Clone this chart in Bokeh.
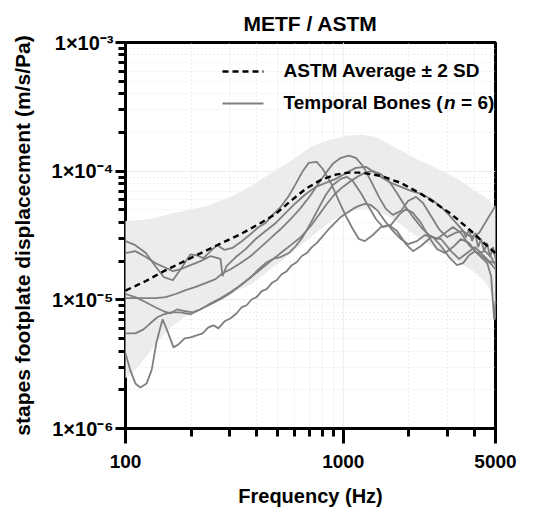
from bokeh.plotting import figure
from bokeh.models import FixedTicker, CustomJSTickFormatter, Label, Arrow, Range1d
from bokeh.embed import file_html
from bokeh.resources import INLINE

FONT = "Liberation Sans"

# ---------------- data (Hz, m/s/Pa) ----------------
x_major_ticks = [100, 1000, 5000]
x_minor_ticks = [200, 300, 400, 500, 600, 700, 800, 900, 2000, 3000, 4000]
y_major_ticks = [1e-6, 1e-5, 1e-4, 1e-3]
y_minor_ticks = [k * 10.0 ** e for e in (-6, -5, -4) for k in range(2, 10)]

# ASTM average and +/- 2 SD band
band_freq = [100, 117, 137, 161, 192, 238, 304, 376, 464, 574, 709, 877, 1027,
             1204, 1412, 1745, 2157, 2666, 3295, 3862, 4527, 4774, 5000]
band_upper = [4.10e-5, 4.17e-5, 4.33e-5, 4.67e-5, 5.00e-5, 5.37e-5, 6.30e-5, 7.68e-5,
              9.6e-5, 1.20e-4, 1.55e-4, 1.76e-4, 1.88e-4, 1.92e-4, 1.84e-4, 1.52e-4,
              1.25e-4, 1.06e-4, 8.85e-5, 7.4e-5, 6.19e-5, 5.76e-5, 5.17e-5]
band_lower = [2.45e-6, 3.14e-6, 4.51e-6, 6.1e-6, 7.6e-6, 9.4e-6, 1.13e-5, 1.31e-5,
              1.73e-5, 2.30e-5, 3.06e-5, 4.10e-5, 4.70e-5, 5.07e-5, 4.99e-5, 4.10e-5,
              3.13e-5, 2.49e-5, 2.00e-5, 1.73e-5, 1.35e-5, 1.13e-5, 6.81e-6]

mean_freq = [100, 124, 150, 199, 259, 338, 418, 490, 574, 673, 788, 924, 1060, 1204,
             1488, 1840, 2274, 2666, 3125, 3862, 4527, 5000]
mean_disp = [1.18e-5, 1.40e-5, 1.67e-5, 2.11e-5, 2.62e-5, 3.24e-5, 3.96e-5, 4.66e-5,
             5.87e-5, 7.3e-5, 8.55e-5, 9.4e-5, 9.75e-5, 9.75e-5, 9.19e-5, 8.1e-5,
             6.66e-5, 5.59e-5, 4.66e-5, 3.43e-5, 2.67e-5, 2.30e-5]

# temporal bones (n = 6)
bone1_freq = [100, 111, 124, 137, 150, 165, 179, 199, 212, 228, 246, 264, 285, 310, 338,
              376, 409, 440, 474, 516, 562, 605, 651, 694, 755, 805, 877, 954, 1027, 1106,
              1179, 1256, 1367, 1488, 1620, 1764, 1940, 2089, 2274, 2528, 2811, 3125,
              3402, 3702, 4030, 4386, 4673, 5000]
bone1_disp = [2.86e-5, 2.66e-5, 2.31e-5, 1.83e-5, 1.50e-5, 1.42e-5, 1.73e-5, 2.26e-5,
              2.22e-5, 2.11e-5, 2.39e-5, 2.66e-5, 2.44e-5, 2.53e-5, 2.81e-5, 3.25e-5,
              3.68e-5, 3.96e-5, 4.57e-5, 5.27e-5, 6.42e-5, 7.96e-5, 1.00e-4, 1.16e-4,
              1.18e-4, 1.04e-4, 8.10e-5, 5.87e-5, 4.49e-5, 3.55e-5, 2.97e-5, 2.86e-5,
              3.19e-5, 3.68e-5, 3.82e-5, 3.43e-5, 2.71e-5, 2.39e-5, 2.62e-5, 3.07e-5,
              2.97e-5, 2.39e-5, 2.08e-5, 2.31e-5, 2.57e-5, 2.22e-5, 2.00e-5, 1.93e-5]

bone2_freq = [100, 111, 124, 137, 150, 165, 179, 199, 221, 246, 273, 279, 291, 321, 356,
              396, 440, 490, 544, 605, 673, 748, 831, 924, 1027, 1142, 1270, 1367, 1488,
              1655, 1840, 2045, 2274, 2528, 2811, 3058, 3295, 3549, 3862, 4204, 4480,
              4774, 5000]
bone2_disp = [2.31e-5, 2.39e-5, 2.15e-5, 1.93e-5, 1.80e-5, 1.67e-5, 1.73e-5, 1.86e-5,
              2.00e-5, 2.19e-5, 2.08e-5, 1.53e-5, 1.83e-5, 2.15e-5, 2.48e-5, 2.97e-5,
              3.43e-5, 3.96e-5, 4.74e-5, 5.66e-5, 6.65e-5, 7.54e-5, 8.10e-5, 8.71e-5,
              9.65e-5, 1.06e-4, 1.08e-4, 1.00e-4, 9.03e-5, 8.10e-5, 7.54e-5, 7.02e-5,
              6.65e-5, 6.08e-5, 5.27e-5, 4.57e-5, 3.96e-5, 3.43e-5, 3.07e-5, 3.31e-5,
              3.96e-5, 4.74e-5, 5.37e-5]

bone3_freq = [100, 117, 137, 153, 170, 189, 210, 233, 259, 279, 304, 338, 376, 418, 464,
              516, 574, 638, 709, 772, 831, 895, 975, 1060, 1142, 1230, 1339, 1457, 1569,
              1690, 1840, 1982, 2157, 2323, 2528, 2751, 2994, 3260, 3549, 3663, 3782,
              3903, 4030, 4160, 4294, 4432, 4575, 4723, 4876, 5000]
bone3_disp = [1.03e-5, 1.03e-5, 1.03e-5, 1.05e-5, 1.11e-5, 1.19e-5, 1.26e-5, 1.35e-5,
              1.45e-5, 1.61e-5, 1.73e-5, 1.93e-5, 2.19e-5, 2.57e-5, 3.02e-5, 3.55e-5,
              4.25e-5, 5.18e-5, 6.53e-5, 8.10e-5, 9.65e-5, 1.14e-4, 1.27e-4, 1.32e-4,
              1.27e-4, 1.10e-4, 8.40e-5, 6.31e-5, 5.09e-5, 4.57e-5, 4.91e-5, 5.87e-5,
              6.31e-5, 5.66e-5, 4.49e-5, 3.55e-5, 3.07e-5, 3.31e-5, 3.43e-5, 3.07e-5,
              3.55e-5, 2.86e-5, 3.31e-5, 2.57e-5, 2.97e-5, 2.39e-5, 2.76e-5, 2.15e-5,
              2.57e-5, 2.08e-5]

bone4_freq = [100, 111, 124, 137, 150, 161, 173, 189, 203, 221, 246, 273, 304, 338, 376,
              409, 440, 474, 516, 562, 605, 651, 709, 772, 831, 895, 975, 1038, 1106, 1204,
              1311, 1412, 1520, 1655, 1801, 1940, 2089, 2274, 2475, 2693, 2931, 3191,
              3474, 3782, 4116, 4480, 4774, 5000]
bone4_disp = [1.11e-5, 1.05e-5, 9.58e-6, 8.75e-6, 8.15e-6, 7.86e-6, 8.44e-6, 8.15e-6,
              8.00e-6, 8.44e-6, 9.41e-6, 1.03e-5, 1.15e-5, 1.30e-5, 1.50e-5, 1.73e-5,
              1.93e-5, 2.08e-5, 2.15e-5, 2.31e-5, 2.62e-5, 3.07e-5, 3.96e-5, 5.18e-5,
              6.53e-5, 7.82e-5, 8.71e-5, 9.03e-5, 8.40e-5, 6.77e-5, 5.27e-5, 4.25e-5,
              3.68e-5, 3.82e-5, 4.57e-5, 5.09e-5, 4.74e-5, 3.96e-5, 3.07e-5, 2.48e-5,
              2.31e-5, 2.57e-5, 2.97e-5, 2.76e-5, 2.31e-5, 2.08e-5, 1.90e-5, 1.73e-5]

bone5_freq = [100, 111, 121, 130, 140, 150, 161, 179, 199, 221, 246, 273, 304, 338, 376,
              418, 464, 516, 574, 638, 709, 772, 840, 915, 995, 1083, 1179, 1270, 1367,
              1488, 1620, 1764, 1919, 2089, 2274, 2475, 2693, 2931, 3191, 3474, 3782,
              4116, 4480, 4774, 5000]
bone5_disp = [5.49e-6, 5.49e-6, 5.89e-6, 6.57e-6, 7.32e-6, 7.72e-6, 8.00e-6, 8.00e-6,
              7.72e-6, 8.44e-6, 9.24e-6, 1.01e-5, 1.13e-5, 1.30e-5, 1.50e-5, 1.73e-5,
              2.00e-5, 2.31e-5, 2.66e-5, 3.07e-5, 3.75e-5, 4.57e-5, 5.56e-5, 6.65e-5,
              7.54e-5, 8.40e-5, 9.19e-5, 9.82e-5, 1.00e-4, 9.48e-5, 8.40e-5, 6.77e-5,
              5.37e-5, 4.41e-5, 3.68e-5, 3.19e-5, 2.97e-5, 3.31e-5, 3.68e-5, 3.31e-5,
              2.66e-5, 2.31e-5, 2.39e-5, 2.15e-5, 1.86e-5]

bone6_freq = [100, 105, 111, 117, 125, 132, 139, 148, 156, 166, 175, 187, 199, 212, 226,
              240, 254, 267, 285, 304, 324, 341, 360, 380, 400, 422, 445, 469, 494, 521,
              550, 580, 611, 645, 680, 717, 755, 805, 858, 915, 975, 1038, 1106, 1179,
              1256, 1339, 1442, 1553, 1690, 1840, 1982, 2180, 2373, 2582, 2811, 3058,
              3330, 3549, 3782, 4030, 4294, 4575, 4774, 4927, 5000]
bone6_disp = [3.83e-6, 2.87e-6, 2.24e-6, 2.08e-6, 2.24e-6, 2.87e-6, 4.75e-6, 7.06e-6,
              5.69e-6, 4.27e-6, 4.50e-6, 5.02e-6, 5.11e-6, 5.30e-6, 5.49e-6, 6.11e-6,
              6.34e-6, 6.00e-6, 6.81e-6, 7.19e-6, 7.86e-6, 8.75e-6, 9.08e-6, 1.01e-5,
              1.05e-5, 1.17e-5, 1.21e-5, 1.35e-5, 1.42e-5, 1.58e-5, 1.67e-5, 1.86e-5,
              1.96e-5, 2.19e-5, 2.31e-5, 2.57e-5, 2.76e-5, 3.13e-5, 3.55e-5, 3.96e-5,
              4.41e-5, 4.74e-5, 5.09e-5, 5.37e-5, 5.56e-5, 5.46e-5, 4.91e-5, 4.10e-5,
              3.43e-5, 2.97e-5, 2.71e-5, 2.86e-5, 3.19e-5, 3.07e-5, 2.62e-5, 2.15e-5,
              1.86e-5, 1.93e-5, 2.22e-5, 2.39e-5, 2.15e-5, 1.93e-5, 1.53e-5, 7.06e-6,
              9.75e-6]

bones = [(bone1_freq, bone1_disp), (bone2_freq, bone2_disp), (bone3_freq, bone3_disp),
         (bone4_freq, bone4_disp), (bone5_freq, bone5_disp), (bone6_freq, bone6_disp)]

title_text = "METF / ASTM"
x_title = "Frequency (Hz)"
y_title = "stapes footplate displacecment (m/s/Pa)"
legend_mean = "ASTM Average \u00b1 2 SD"

# ---------------- figure ----------------
p = figure(width=530, height=509, x_axis_type="log", y_axis_type="log",
           x_range=Range1d(100, 5000), y_range=Range1d(1e-6, 1e-3),
           output_backend="svg", toolbar_location=None,
           min_border_left=125, min_border_right=35, min_border_top=42,
           min_border_bottom=81)
p.background_fill_color = "white"
p.border_fill_color = "white"
p.outline_line_color = "black"
p.outline_line_width = 3

# title
p.title.text = title_text
p.title.align = "center"
p.title.text_font = FONT
p.title.text_font_style = "bold"
p.title.text_font_size = "21px"
p.title.text_color = "black"
p.title.standoff = 16

# grid
for g in (p.xgrid, p.ygrid):
    g.grid_line_color = "#ededed"
    g.grid_line_width = 1
    g.minor_grid_line_color = "#dedede"
    g.minor_grid_line_dash = "1 3"
    g.minor_grid_line_width = 1

# axes
p.xaxis.ticker = FixedTicker(ticks=x_major_ticks, minor_ticks=x_minor_ticks)
p.yaxis.ticker = FixedTicker(ticks=y_major_ticks, minor_ticks=y_minor_ticks)
p.xaxis.formatter = CustomJSTickFormatter(code="return String(Math.round(tick));")
p.yaxis.formatter = CustomJSTickFormatter(code="""
const sup = {"-": "\u207b", "0": "\u2070", "1": "\u00b9", "2": "\u00b2", "3": "\u00b3",
             "4": "\u2074", "5": "\u2075", "6": "\u2076", "7": "\u2077", "8": "\u2078", "9": "\u2079"};
const e = Math.round(Math.log10(tick));
return "1\u00d710" + String(e).split("").map(c => sup[c]).join("");
""")
for ax in (p.xaxis, p.yaxis):
    ax.axis_line_width = 3
    ax.axis_line_color = "black"
    ax.major_tick_line_width = 3
    ax.minor_tick_line_width = 3
    ax.major_tick_in = 0
    ax.minor_tick_in = 0
    ax.major_label_text_font = FONT
    ax.major_label_text_font_style = "bold"
    ax.major_label_text_color = "black"
    ax.axis_label_text_font = FONT
    ax.axis_label_text_font_style = "bold"
    ax.axis_label_text_color = "black"
p.xaxis.major_tick_out = 15
p.xaxis.minor_tick_out = 8
p.xaxis.major_label_text_font_size = "19px"
p.xaxis.major_label_standoff = 11
p.xaxis.axis_label = x_title
p.xaxis.axis_label_text_font_size = "20px"
p.xaxis.axis_label_standoff = 14
p.yaxis.major_tick_out = 10
p.yaxis.minor_tick_out = 7
p.yaxis.major_label_text_font_size = "20px"
p.yaxis.major_label_standoff = 2
p.yaxis.axis_label = y_title
p.yaxis.axis_label_text_font_size = "21px"
p.yaxis.axis_label_standoff = 15

# data
p.varea(x=band_freq, y1=band_lower, y2=band_upper, fill_color="#ececec",
        level="overlay")
for bf, bd in bones:
    p.line(bf, bd, line_color="#7f7f7f", line_width=1.8, level="overlay")
p.line(mean_freq, mean_disp, line_color="black", line_width=2.4, line_dash="6 4",
       level="overlay")

# legend (screen units, relative to the frame)
def lab(x, y, text, size, style="bold"):
    p.add_layout(Label(x=x, y=y, x_units="screen", y_units="screen", text=text,
                       text_font=FONT, text_font_style=style, text_font_size=size,
                       text_align="left", text_baseline="middle",
                       text_color="black"))

p.add_layout(Arrow(end=None, x_start=97, y_start=357, x_end=138, y_end=357,
                   start_units="screen", end_units="screen", line_color="black",
                   line_width=2.4, line_dash="6 4"))
p.add_layout(Arrow(end=None, x_start=97, y_start=325, x_end=138, y_end=325,
                   start_units="screen", end_units="screen", line_color="#7f7f7f",
                   line_width=1.8))
lab(158, 358, legend_mean, "19px")
lab(158, 326, "Temporal Bones (", "19px")
lab(318.5, 326, "n", "19px", style="bold italic")
lab(335.6, 326, "= 6)", "19px")

open("out.html", "w").write(file_html(p, INLINE))
